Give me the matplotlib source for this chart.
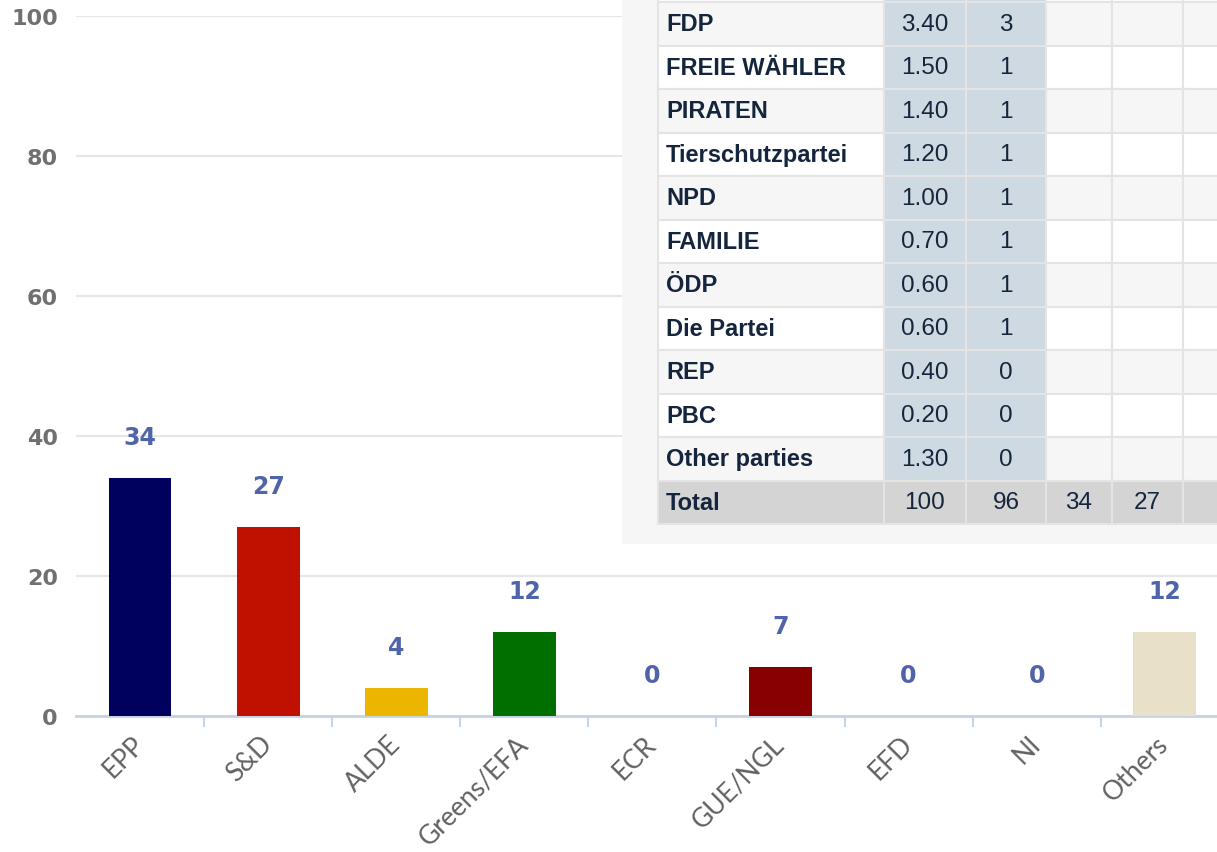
import numpy as np
import matplotlib.pyplot as plt
from matplotlib.patches import Rectangle

# Seats by group
groups = ["EPP", "S&D", "ALDE", "Greens/EFA", "ECR", "GUE/NGL", "EFD", "NI", "Others"]
seats = [34, 27, 4, 12, 0, 7, 0, 0, 12]
bar_colors = ["#00005f", "#c01100", "#ecb500", "#006f00", "#1f3f8f",
              "#880000", "#5f5f5f", "#9f9f9f", "#e8e0c8"]

# Table overlay (party, vote %, seats)
parties = ["FDP", "FREIE WÄHLER", "PIRATEN", "Tierschutzpartei", "NPD", "FAMILIE",
           "ÖDP", "Die Partei", "REP", "PBC", "Other parties"]
votes = ["3.40", "1.50", "1.40", "1.20", "1.00", "0.70", "0.60", "0.60", "0.40", "0.20", "1.30"]
party_seats = ["3", "1", "1", "1", "1", "1", "1", "1", "0", "0", "0"]
total_row = ["Total", "100", "96", "34", "27", ""]

W, H = 1217, 853
fig = plt.figure(figsize=(W / 100, H / 100), dpi=100)
fig.patch.set_facecolor("white")

# main bar chart, placed in pixel terms
ax = fig.add_axes([76 / W, (H - 717) / H, (W - 76) / W, 700 / H])
x = np.arange(len(groups))
ax.bar(x, seats, width=0.49, color=bar_colors, zorder=3)
ax.set_xlim(-0.5, (W - 140) / 128.1)
ax.set_ylim(0, 100)
ax.set_yticks(np.arange(0, 101, 20))
ax.yaxis.grid(True, color="#e6e6e6", lw=1.5)
ax.set_axisbelow(True)
for s in ["top", "right", "left"]:
    ax.spines[s].set_visible(False)
ax.spines["bottom"].set_color("#c5d3e2")
ax.spines["bottom"].set_linewidth(2)
ax.tick_params(axis="y", length=0, pad=13, labelsize=16, labelcolor="#707070")
for t in ax.get_yticklabels():
    t.set_fontweight("bold")

ax.set_xticks(x)
ax.set_xticklabels(groups, rotation=45, ha="right", va="center", rotation_mode="anchor",
                   family="Lato", fontsize=19, color="#626262")
ax.tick_params(axis="x", length=0, pad=17)
ax.set_xticks(x[:-1] + 0.5, minor=True)
ax.tick_params(axis="x", which="minor", length=8, width=1.5, color="#c5d3e2")

for xi, v in zip(x, seats):
    ax.annotate(str(v), (xi, v), xytext=(0, 21), textcoords="offset points",
                ha="center", va="bottom", fontsize=17, fontweight="bold",
                color="#5064aa", clip_on=False)

# table panel on top right
tx = fig.add_axes([622 / W, (H - 545) / H, (W - 622) / W, 545 / H])
tx.set_xlim(622, W)
tx.set_ylim(545, 0)
tx.axis("off")
tx.add_patch(Rectangle((622, 0), W - 622, 545, color="#f6f6f6", lw=0))

col_edges = [658, 884, 966, 1046, 1112, 1183, 1260]
row_h = 43.5
top = 3
line_c = "#e4e4e4"

rows = [["", "", "", "", "", ""]]
rows += [[p, v, s, "", "", ""] for p, v, s in zip(parties, votes, party_seats)]
rows.append(total_row)

for r, row in enumerate(rows):
    y0 = top + (r - 1) * row_h
    is_total = r == len(rows) - 1
    base = "#d4d4d4" if is_total else ("#ffffff" if r % 2 == 0 else "#f6f6f6")
    for c in range(len(col_edges) - 1):
        x0, x1 = col_edges[c], col_edges[c + 1]
        fc = base
        if c in (1, 2) and not is_total:
            fc = "#cfd9e1"
        tx.add_patch(Rectangle((x0, y0), x1 - x0, row_h, facecolor=fc,
                               edgecolor=line_c, lw=1.5))
        txt = row[c]
        if not txt:
            continue
        if c == 0:
            tx.text(x0 + 8, y0 + row_h / 2, txt, ha="left", va="center",
                    family="Liberation Sans", fontweight="bold", fontsize=17,
                    color="#14253d")
        else:
            tx.text((x0 + x1) / 2, y0 + row_h / 2, txt, ha="center", va="center",
                    family="Liberation Sans", fontsize=17.5, color="#14253d")

fig.savefig("out.png", dpi=100)
